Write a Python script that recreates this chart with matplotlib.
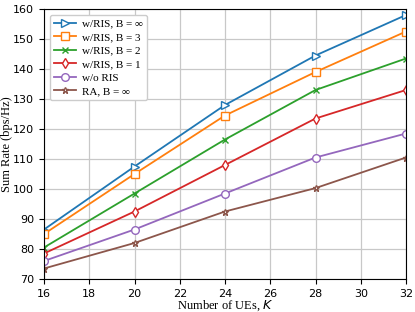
import matplotlib
matplotlib.use("Agg")
import matplotlib.pyplot as plt

K = [16, 20, 24, 28, 32]
ris_inf = [86.5, 107.5, 128.0, 144.5, 158.0]
ris_b3 = [85.0, 105.0, 124.5, 139.0, 152.5]
ris_b2 = [80.5, 98.5, 116.5, 133.0, 143.5]
ris_b1 = [78.5, 92.5, 108.0, 123.5, 133.0]
no_ris = [76.0, 86.5, 98.5, 110.5, 118.5]
ra_inf = [73.5, 82.0, 92.5, 100.3, 110.5]

labels = ["w/RIS, B = \u221e", "w/RIS, B = 3", "w/RIS, B = 2", "w/RIS, B = 1", "w/o RIS", "RA, B = \u221e"]
series = [ris_inf, ris_b3, ris_b2, ris_b1, no_ris, ra_inf]
colors = ["#1f77b4", "#ff7f0e", "#2ca02c", "#d62728", "#9467bd", "#8c564b"]
markers = [">", "s", "x", "d", "o", "*"]
msizes = [5.5, 5.5, 5, 5.5, 5.5, 4.5]

fig = plt.figure(figsize=(4.15, 3.12), dpi=100)
ax = fig.add_axes([44/415, 1 - 279/312, (406-44)/415, (279-9)/312])

for y, lab, c, m, ms in zip(series, labels, colors, markers, msizes):
    if m == "x":
        ax.plot(K, y, color=c, marker=m, markersize=ms, linewidth=1.3, label=lab)
    else:
        ax.plot(K, y, color=c, marker=m, markersize=ms, markerfacecolor="white",
                markeredgecolor=c, markeredgewidth=1.0, linewidth=1.3, label=lab)

ax.set_xlim(16, 32)
ax.set_ylim(70, 160)
ax.set_xticks([16, 18, 20, 22, 24, 26, 28, 30, 32])
ax.set_yticks(range(70, 161, 10))
ax.tick_params(labelsize=8)
ax.grid(True, color="#c8c8c8", linewidth=0.9)
ax.set_axisbelow(True)

ax.set_xlabel("Number of UEs, $K$", fontfamily="Liberation Serif", fontsize=9, labelpad=0)
ax.set_ylabel("Sum Rate (bps/Hz)", fontfamily="Liberation Serif", fontsize=9, labelpad=0)

leg = ax.legend(loc="upper left", prop={"family": ["Liberation Serif", "DejaVu Sans"], "size": 8},
                framealpha=1, edgecolor="#cccccc", fancybox=True, handlelength=2.0,
                handletextpad=0.5, borderpad=0.4, labelspacing=0.33)

fig.savefig("out.png", dpi=100)
